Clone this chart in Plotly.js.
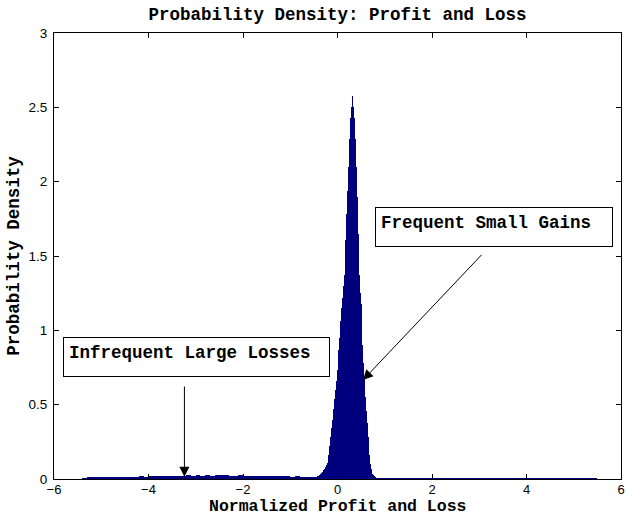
<!DOCTYPE html>
<html>
<head>
<meta charset="utf-8">
<script src="https://cdn.plot.ly/plotly-3.0.1.min.js"></script>
<style>html,body{margin:0;padding:0;background:#fff;}#chart{width:627px;height:516px;}</style>
</head>
<body>
<div id="chart"></div>
<script>
// Histogram bins (density)
var leftTailStart = -5.4, leftTailWidth = 0.1;
var leftTailDensity = [0.010,0.012,0.011,0.012,0.013,0.012,0.014,0.013,0.015,0.014,
  0.016,0.015,0.017,0.016,0.020,0.017,0.018,0.019,0.018,0.020,
  0.021,0.022,0.025,0.023,0.024,0.022,0.025,0.023,0.024,0.026,
  0.024,0.023,0.022,0.024,0.022,0.021,0.020,0.021,0.019,0.020,
  0.018,0.019,0.017,0.018,0.016,0.017,0.015,0.016,0.014];

var peakStart = -0.5, peakWidth = 0.02;
var peakDensity = [0.012,0.012,0.015,0.018,0.020,0.025,0.030,0.035,0.040,0.050,
  0.060,0.070,0.080,0.095,0.110,0.160,0.220,0.280,0.340,0.400,
  0.470,0.540,0.600,0.660,0.730,0.800,0.870,0.950,1.060,1.150,
  1.220,1.300,1.370,1.610,1.780,1.940,2.100,2.290,2.430,2.500,
  2.575,2.500,2.430,2.400,2.290,2.100,1.900,1.650,1.370,1.250,
  1.180,0.900,0.780,0.680,0.550,0.460,0.380,0.280,0.160,0.100,
  0.070,0.050,0.035,0.025,0.018,0.012,0.010,0.008,0.008,0.007];

var rightTailStart = 0.9, rightTailWidth = 0.1;
var rightTailDensity = [0.008,0.007,0.008,0.007,0.007,0.008,0.007,0.007,0.006,0.007,
  0.007,0.006,0.007,0.007,0.006,0.007,0.006,0.007,0.007,0.006,
  0.007,0.006,0.007,0.006,0.006,0.007,0.006,0.007,0.006,0.006,
  0.007,0.006,0.006,0.007,0.006,0.006,0.007,0.006,0.006,0.007,
  0.006,0.006,0.007,0.006,0.006,0.006];

var titleText = 'Probability Density: Profit and Loss';
var xTitle = 'Normalized Profit and Loss';
var yTitle = 'Probability Density';
var labelLosses = 'Infrequent Large Losses';
var labelGains = 'Frequent Small Gains';

function segment(start, w, vals, xs, ys, ws) {
  for (var i = 0; i < vals.length; i++) {
    xs.push(start + (i + 0.5) * w);
    ys.push(vals[i]);
    ws.push(w);
  }
}
var bx = [], by = [], bw = [];
segment(leftTailStart, leftTailWidth, leftTailDensity, bx, by, bw);
segment(peakStart, peakWidth, peakDensity, bx, by, bw);
segment(rightTailStart, rightTailWidth, rightTailDensity, bx, by, bw);

var mono = 'Liberation Mono, Courier New, monospace';
var trace = {
  type: 'bar', x: bx, y: by, width: bw,
  marker: {color: '#00007F', line: {width: 0}},
  hoverinfo: 'x+y'
};

var layout = {
  width: 627, height: 516,
  margin: {l: 54, r: 6, t: 33, b: 37},
  paper_bgcolor: '#fff', plot_bgcolor: '#fff',
  showlegend: false, bargap: 0,
  font: {family: 'Liberation Sans, Arial, sans-serif', size: 14, color: '#000'},
  title: {text: titleText, x: 0.5, xref: 'paper', xanchor: 'center',
    y: 1 - 14/516, yref: 'container', yanchor: 'middle',
    font: {family: mono, size: 17.5, weight: 'bold', color: '#000'}},
  xaxis: {range: [-6, 6], tickmode: 'linear', tick0: -6, dtick: 2,
    ticks: 'inside', ticklen: 5, tickcolor: '#000', mirror: 'ticks',
    showline: true, linecolor: '#000', linewidth: 1, showgrid: false, zeroline: false,
    ticklabelstandoff: -2,
    tickfont: {family: 'Liberation Sans, Arial, sans-serif', size: 13}},
  yaxis: {range: [0, 3], tickmode: 'linear', tick0: 0, dtick: 0.5,
    ticks: 'inside', ticklen: 5, tickcolor: '#000', mirror: 'ticks',
    showline: true, linecolor: '#000', linewidth: 1, showgrid: false, zeroline: false,
    ticklabelstandoff: 3,
    tickfont: {family: 'Liberation Sans, Arial, sans-serif', size: 13.5},
    title: {text: yTitle, standoff: 4, font: {family: mono, size: 17.5, weight: 'bold'}}},
  annotations: [
    {xref: 'paper', yref: 'paper', x: 0.5, y: -(506.5 - 479) / 446, xanchor: 'center', yanchor: 'middle',
     text: xTitle, showarrow: false,
     font: {family: mono, size: 16.5, weight: 'bold', color: '#000'}},
    {xref: 'x', yref: 'y', x: -5.80, y: 0.955, xanchor: 'left', yanchor: 'top',
     text: labelLosses, showarrow: false, align: 'left', valign: 'top',
     width: 255, height: 28, borderpad: 5, bordercolor: '#000', borderwidth: 1, bgcolor: '#fff',
     font: {family: mono, size: 17.5, weight: 'bold', color: '#000'}},
    {xref: 'x', yref: 'y', x: 0.804, y: 1.829, xanchor: 'left', yanchor: 'top',
     text: labelGains, showarrow: false, align: 'left', valign: 'top',
     width: 226, height: 28, borderpad: 5, bordercolor: '#000', borderwidth: 1, bgcolor: '#fff',
     font: {family: mono, size: 17.5, weight: 'bold', color: '#000'}},
    {xref: 'x', yref: 'y', x: -3.24, y: 0.015, axref: 'x', ayref: 'y', ax: -3.24, ay: 0.632,
     text: '', showarrow: true, arrowhead: 2, arrowsize: 2, arrowwidth: 1, arrowcolor: '#000', standoff: 0},
    {xref: 'x', yref: 'y', x: 0.54, y: 0.666, axref: 'x', ayref: 'y', ax: 3.08, ay: 1.518,
     text: '', showarrow: true, arrowhead: 2, arrowsize: 2, arrowwidth: 1, arrowcolor: '#000', standoff: 0}
  ]
};

Plotly.newPlot('chart', [trace], layout, {displayModeBar: false, staticPlot: true});
</script>
</body>
</html>
